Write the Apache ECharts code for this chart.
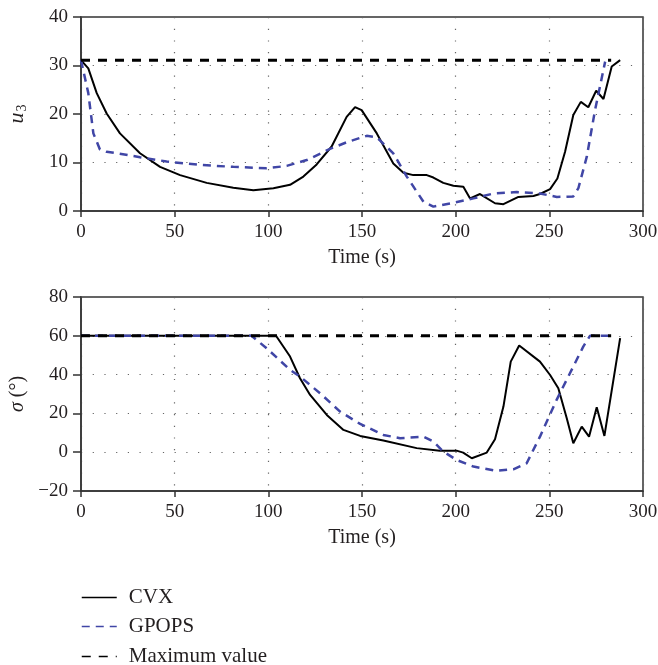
<!DOCTYPE html>
<html>
<head>
<meta charset="utf-8">
<script src="https://cdn.jsdelivr.net/npm/echarts@6/dist/echarts.min.js"></script>
<style>
html,body{margin:0;padding:0;background:#fff;}
#chart{width:658px;height:665px;}
</style>
</head>
<body>
<div id="chart"></div>
<script>
// ---- Data ----
// Top panel: u3 vs time
var cvxU_t = [0,3.9,8.4,13.7,20.8,31.5,42.2,52.9,67.1,81.3,92,102.7,111.6,118.7,125.8,133.8,141.8,146.3,149.8,157.9,166.7,172.1,177.4,184.6,188.1,193.4,198.8,204.1,207.7,213,221,225.5,233.5,241.5,245,250.4,254.3,258.4,262.8,266.8,270.8,275,278.9,283.3,287.8];
var cvxU_v = [31.1,29.4,24.3,20.1,16.0,11.9,9.1,7.4,5.8,4.8,4.3,4.7,5.4,7.1,9.6,13.3,19.4,21.4,20.8,16.0,9.8,7.9,7.4,7.4,6.9,5.8,5.2,5.0,2.6,3.5,1.6,1.4,2.9,3.1,3.5,4.5,6.7,12.2,19.8,22.5,21.4,24.8,23.1,29.8,31.1];
var gpopsU_t = [0,3.9,6.6,10.1,13.7,19.1,31.5,45.7,63.5,81.3,99.1,109.8,120.5,132.9,142,152.5,157.9,166.7,173.9,182.8,188.1,198.8,209.5,220.1,232.6,245,254,262.8,265.5,270,274.4,279.8];
var gpopsU_v = [31.1,24.3,16.0,12.7,12.2,11.9,11.1,10.2,9.5,9.1,8.8,9.3,10.5,12.8,14.2,15.5,15.2,11.9,7.1,1.9,0.9,1.7,2.6,3.6,3.9,3.6,2.9,3.0,4.7,11.2,20.8,30.8];
var maxU_t = [0,283];
var maxU_v = [31.1,31.1];

// Bottom panel: sigma vs time
var cvxS_t = [0,104.1,111.6,116.9,122.3,131.2,140.1,149,161.4,179.2,191.5,200.5,204,208.6,216.6,221,225.5,229.4,233.9,245,250.4,254.8,259.3,262.8,267.3,271.2,275.3,279.4,287.8];
var cvxS_v = [60,60,49.3,38.1,29.5,19.2,11.5,8.4,6.0,2.1,0.8,0.8,-0.2,-3.1,-0.2,6.7,23.5,46.7,55.0,46.7,39.8,33.0,17.5,4.6,13.2,8.0,23.2,8.4,58.8];
var gpopsS_t = [0,91,99.1,111.6,116.9,127.6,138.3,149,161.4,170.3,182.8,188.1,193.4,200.5,209.5,221.9,230.8,237.9,245,253.9,261,268.1,271.7,282.4];
var gpopsS_v = [60,60,53.6,42.4,39,30.4,20.9,14.6,8.9,7.2,8.0,5.5,0.3,-4.0,-7.4,-9.6,-8.8,-5.7,8.0,27,40.7,54.4,60,60];
var maxS_t = [0,283];
var maxS_v = [60,60];

var seriesNames = ['CVX','GPOPS','Maximum value'];
var yTopRange = [0,40,10];
var yBotRange = [-20,80,20];

function pairs(t, v){ var o=[]; for(var i=0;i<t.length;i++) o.push([t[i],v[i]]); return o; }

var FONT = 'Liberation Serif';
var TXT = '#231f20';
var BLUE = '#4046a6';

function xAx(idx){
  return {
    type:'value', gridIndex:idx, min:0, max:300, interval:50,
    name:'Time (s)', nameLocation:'middle', nameGap:37,
    nameTextStyle:{fontFamily:FONT,fontSize:20,color:TXT},
    axisLine:{onZero:false,lineStyle:{color:'#333',width:1.5}},
    axisTick:{show:true,inside:false,length:6,lineStyle:{color:'#333',width:1.5}},
    axisLabel:{fontFamily:FONT,fontSize:19,color:TXT,margin:12},
    splitLine:{show:true,lineStyle:{color:'#666',width:1.2,type:[1.2,10.5]}}
  };
}
function yAx(idx, rng, nameObj){
  return {
    type:'value', gridIndex:idx, min:rng[0], max:rng[1], interval:rng[2],
    name:nameObj.text, nameLocation:'middle', nameGap:nameObj.gap, nameRotate:90,
    nameTextStyle:{fontFamily:FONT,fontSize:20,color:TXT,rich:nameObj.rich},
    axisLine:{show:true,onZero:false,lineStyle:{color:'#333',width:1.5}},
    axisTick:{show:true,inside:false,length:8,lineStyle:{color:'#333',width:1.5}},
    axisLabel:{fontFamily:FONT,fontSize:19,color:TXT,margin:13,
      formatter:function(v){return String(v).replace('-','\u2212');}},
    splitLine:{show:true,lineStyle:{color:'#666',width:1.2,type:[1.2,10.5]}}
  };
}
function legendItem(name, top){
  return {
    data:[name], orient:'vertical', left:81, top:top, padding:0,
    itemWidth:35, itemHeight:14,
    itemStyle:{opacity:0},
    lineStyle:{width:1.5},
    textStyle:{fontFamily:FONT,fontSize:21,color:TXT,padding:[0,0,0,7]}
  };
}

var chart = echarts.init(document.getElementById('chart'), null, {renderer:'canvas'});
var opt = {
  backgroundColor:'#fff',
  animation:false,
  grid:[
    {left:81,right:15,top:17,height:194,show:true,borderColor:'#333',borderWidth:1.5,backgroundColor:'transparent',outerBoundsMode:'none',containLabel:false},
    {left:81,right:15,top:297,height:194,show:true,borderColor:'#333',borderWidth:1.5,backgroundColor:'transparent',outerBoundsMode:'none',containLabel:false}
  ],
  xAxis:[xAx(0), xAx(1)],
  yAxis:[
    yAx(0, yTopRange, {text:'{i|u}{s|3}', gap:52, rich:{i:{fontFamily:FONT,fontStyle:'italic',fontSize:22,color:TXT},s:{fontFamily:FONT,fontSize:14,color:TXT,verticalAlign:'bottom',padding:[9,0,0,1]}}}),
    yAx(1, yBotRange, {text:'{i|\u03c3} (\u00b0)', gap:47, rich:{i:{fontFamily:FONT,fontStyle:'italic',fontSize:20,color:TXT}}})
  ],
  legend:[
    legendItem(seriesNames[0], 587),
    legendItem(seriesNames[1], 616),
    legendItem(seriesNames[2], 646)
  ],
  series:[
    {name:'CVX',type:'line',xAxisIndex:0,yAxisIndex:0,data:pairs(cvxU_t,cvxU_v),showSymbol:false,symbol:'none',
      lineStyle:{color:'#000',width:2},itemStyle:{color:'#000'},z:2},
    {name:'GPOPS',type:'line',xAxisIndex:0,yAxisIndex:0,data:pairs(gpopsU_t,gpopsU_v),showSymbol:false,symbol:'none',
      lineStyle:{color:BLUE,width:2.5,type:[8,6]},itemStyle:{color:BLUE},z:3},
    {name:'Maximum value',type:'line',xAxisIndex:0,yAxisIndex:0,data:pairs(maxU_t,maxU_v),showSymbol:false,symbol:'none',
      lineStyle:{color:'#000',width:3,type:[9,8]},itemStyle:{color:'#000'},z:4},
    {name:'CVX',type:'line',xAxisIndex:1,yAxisIndex:1,data:pairs(cvxS_t,cvxS_v),showSymbol:false,symbol:'none',
      lineStyle:{color:'#000',width:2},itemStyle:{color:'#000'},z:2},
    {name:'GPOPS',type:'line',xAxisIndex:1,yAxisIndex:1,data:pairs(gpopsS_t,gpopsS_v),showSymbol:false,symbol:'none',
      lineStyle:{color:BLUE,width:2.5,type:[8,6]},itemStyle:{color:BLUE},z:3},
    {name:'Maximum value',type:'line',xAxisIndex:1,yAxisIndex:1,data:pairs(maxS_t,maxS_v),showSymbol:false,symbol:'none',
      lineStyle:{color:'#000',width:3,type:[9,8]},itemStyle:{color:'#000'},z:4}
  ]
};
chart.setOption(opt);
</script>
</body>
</html>
